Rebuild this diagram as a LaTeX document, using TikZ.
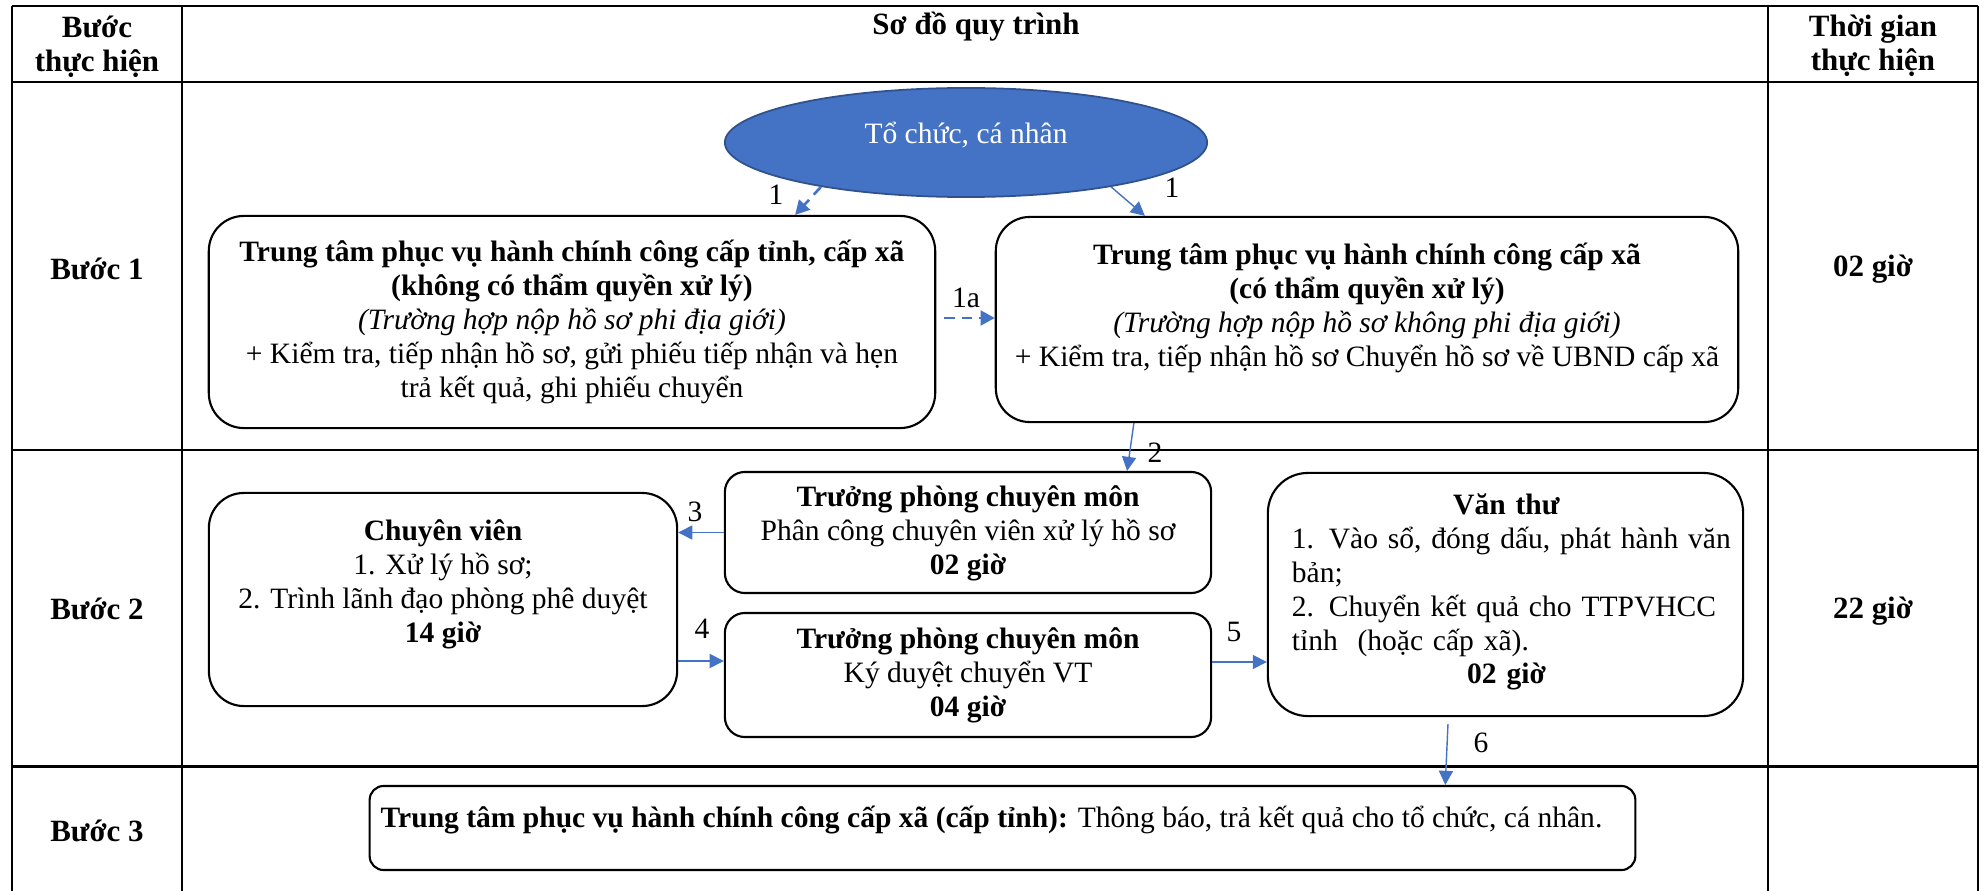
\documentclass[tikz,border=0pt]{standalone}
\usepackage{fontspec}
\setmainfont{Liberation Serif}
\usetikzlibrary{arrows.meta,calc,shapes.geometric}
\definecolor{wblue}{HTML}{4472C4}
\definecolor{wblueD}{HTML}{2F528F}
\begin{document}
\begin{tikzpicture}[x=0.01cm,y=-0.01cm,
  every node/.style={font=\fontsize{8.4}{9.65}\selectfont, inner sep=0pt},
  tab/.style={font=\fontsize{8.8}{9.95}\selectfont\bfseries, align=center, anchor=base},
  box/.style={draw, line width=0.6pt},
  hline/.style={line width=0.85pt},
  vline/.style={line width=0.6pt},
  arr/.style={draw=wblue, line width=0.4pt, -{Triangle[length=4pt,width=4pt]}},
  darr/.style={draw=wblue, line width=0.75pt, dash pattern=on 3pt off 2pt, -{Triangle[length=4pt,width=4.2pt]}},
  txt/.style={align=center}
]
\useasboundingbox (0,0) rectangle (1988,891);
% table
\draw[hline] (12,6) -- (1978,6);
\draw[hline] (12,82) -- (1978,82);
\draw[hline] (12,450) -- (1978,450);
\draw[hline] (12,766) -- (1978,766);
\draw[vline] (12,6) -- (12,891);
\draw[vline] (182,6) -- (182,891);
\draw[vline] (1768,6) -- (1768,891);
\draw[vline] (1978,6) -- (1978,891);
% headers (anchor=base is the baseline of the last line)
\node[tab] (h1) at (97,72) {Bước\\thực hiện};
\node[tab] (h2) at (976,35) {Sơ đồ quy trình};
\node[tab] (h3) at (1873,71) {Thời gian\\thực hiện};
\node[tab] (s1) at (97,279) {Bước 1};
\node[tab] (s2) at (97,619) {Bước 2};
\node[tab] (s3) at (97,841) {Bước 3};
\node[tab] (t1) at (1873,277) {02 giờ};
\node[tab] (t2) at (1873,618) {22 giờ};
% ellipse
\node[ellipse, fill=wblue, draw=wblueD, line width=0.5pt, minimum width=4.82cm, minimum height=1.09cm] (ell) at (966,142.5) {};
\node[text=white] (ellt) at (966,135) {Tổ chức, cá nhân};
% boxes
\node[box, rounded corners=0.35cm, minimum width=7.26cm, minimum height=2.12cm] (A) at (572,322) {};
\node[txt] (At) at (572,322) {\textbf{Trung tâm phục vụ hành chính công cấp tỉnh, cấp xã}\\
\textbf{(không có thẩm quyền xử lý)}\\
\textit{(Trường hợp nộp hồ sơ phi địa giới)}\\
+ Kiểm tra, tiếp nhận hồ sơ, gửi phiếu tiếp nhận và hẹn\\
trả kết quả, ghi phiếu chuyển};
\node[box, rounded corners=0.34cm, minimum width=7.42cm, minimum height=2.05cm] (B) at (1367,319.5) {};
\node[txt] (Bt) at (1367,308) {\textbf{Trung tâm phục vụ hành chính công cấp xã}\\
\textbf{(có thẩm quyền xử lý)}\\
\textit{(Trường hợp nộp hồ sơ không phi địa giới)}\\
+ Kiểm tra, tiếp nhận hồ sơ Chuyển hồ sơ về UBND cấp xã};
\node[box, rounded corners=0.2cm, minimum width=4.86cm, minimum height=1.21cm] (C) at (968,532.5) {};
\node[txt] (Ct) at (968,533) {\textbf{Trưởng phòng chuyên môn}\\Phân công chuyên viên xử lý hồ sơ\\\textbf{02 giờ}};
\node[box, rounded corners=0.35cm, minimum width=4.68cm, minimum height=2.13cm] (D) at (443,599.5) {};
\node[txt] (Dt) at (443,584) {\textbf{Chuyên viên}\\1. Xử lý hồ sơ;\\2. Trình lãnh đạo phòng phê duyệt\\\textbf{14 giờ}};
\node[box, rounded corners=0.2cm, minimum width=4.86cm, minimum height=1.24cm] (E) at (968,675) {};
\node[txt] (Et) at (968,675) {\textbf{Trưởng phòng chuyên môn}\\Ký duyệt chuyển VT\\\textbf{04 giờ}};
\node[box, rounded corners=0.4cm, minimum width=4.75cm, minimum height=2.43cm] (F) at (1505.5,594.5) {};
\node[text width=4.29cm, align=left] (Ft) at (1506.5,592) {\makebox[\linewidth]{\textbf{Văn thư}}\\
\makebox[\linewidth][s]{1. Vào sổ, đóng dấu, phát hành văn}\\
bản;\\
\makebox[\linewidth][s]{2. Chuyển kết quả cho TTPVHCC}\\
tỉnh\ \ (hoặc cấp xã).\\
\makebox[\linewidth]{\textbf{02 giờ}}};
\node[box, rounded corners=0.14cm, minimum width=12.65cm, minimum height=0.84cm] (G) at (1002.5,828) {};
\node[anchor=west] (Gt) at (380,820) {\textbf{Trung tâm phục vụ hành chính công cấp xã (cấp tỉnh):} Thông báo, trả kết quả cho tổ chức, cá nhân.};
% connectors
\draw[darr] (ell.197) -- ([xshift=2.23cm]A.north);
\draw[arr] (ell.343) -- ([xshift=-2.22cm]B.north);
\coordinate (p1a) at ([yshift=0.04cm]A.east);
\draw[darr, shorten <=0.08cm] (p1a) -- (p1a -| B.west);
\draw[arr] ([xshift=-2.33cm]B.south) -- ([xshift=1.59cm]C.north);
\draw[arr] (C.west) -- (C.west -| D.east);
\coordinate (p4) at ([yshift=0.14cm]E.west);
\draw[arr] (p4 -| D.east) -- (p4);
\coordinate (p5) at ([yshift=0.13cm]E.east);
\draw[arr] (p5) -- (p5 -| F.west);
\draw[arr] ([xshift=-0.575cm,yshift=-0.07cm]F.south) -- ([xshift=4.425cm]G.north);
% labels
\node (l1) at (776,195) {1};
\node (l1b) at (1172,188) {1};
\node (l1a) at (966,298) {1a};
\node (l2) at (1155,453) {2};
\node (l3) at (695,512) {3};
\node (l4) at (702,629) {4};
\node (l5) at (1234,632) {5};
\node (l6) at (1481,743) {6};
\end{tikzpicture}
\end{document}
